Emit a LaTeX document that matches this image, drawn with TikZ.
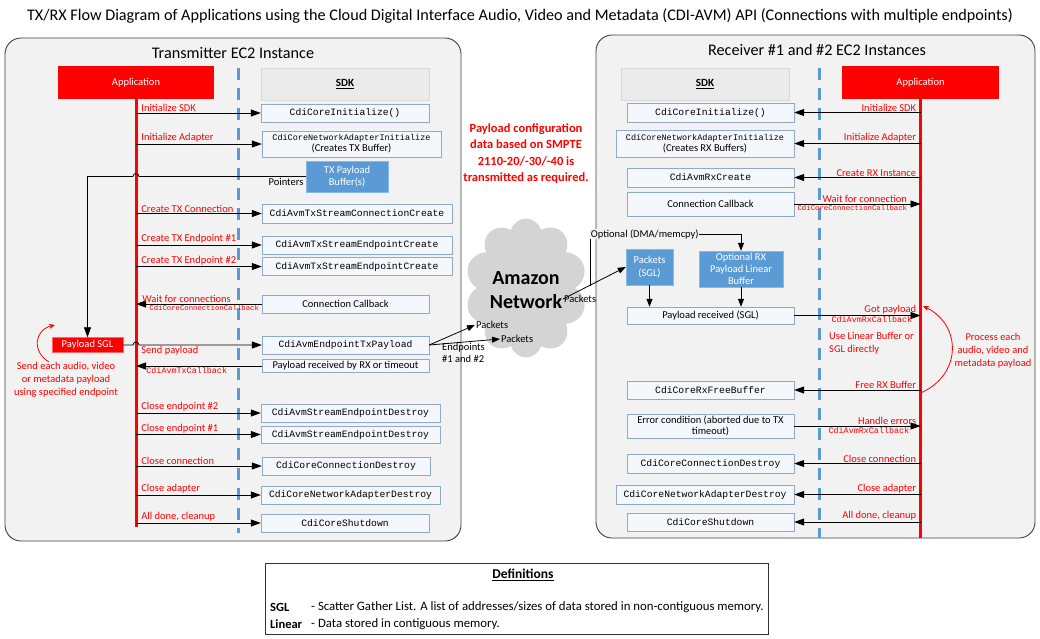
\documentclass[tikz,border=0pt]{standalone}
\usepackage{fontspec}
\setmainfont{Carlito}
\setmonofont{Liberation Mono}
\usetikzlibrary{arrows.meta,shapes.symbols,calc}

\definecolor{panelgray}{HTML}{F2F2F2}
\definecolor{appred}{HTML}{FF0000}
\definecolor{sdkblue}{HTML}{5B9BD5}
\definecolor{boxline}{HTML}{8EA9C9}
\definecolor{boxfill}{HTML}{F4F7FB}
\definecolor{cloudgray}{HTML}{D4D4D4}

\begin{document}
\begin{tikzpicture}[%
    x=1pt, y=-1pt,
    font=\fontsize{10.5}{12.5}\selectfont,
    >={Triangle[length=10pt,width=7pt]},
    panel/.style={draw=black!75, line width=0.9pt, fill=panelgray, rounded corners=16pt},
    appbox/.style={fill=appred, text=white, minimum width=156pt, minimum height=33pt, inner sep=0pt},
    sdkhead/.style={fill=black!8, draw=black!15, minimum width=168pt, minimum height=32pt,
      inner sep=0pt, font=\fontsize{11}{13}\selectfont\bfseries},
    apibox/.style={draw=boxline, fill=boxfill, minimum height=18pt, inner sep=0pt,
      align=center, font=\fontsize{9.7}{11.5}\selectfont\ttfamily},
    notebox/.style={apibox, font=\fontsize{10.5}{12.5}\selectfont},
    bufbox/.style={fill=sdkblue, draw=sdkblue!70!white, text=white, inner sep=0pt,
      align=center, font=\fontsize{10.5}{12.5}\selectfont},
    sglbox/.style={fill=appred, draw=appred!60!white, text=white, minimum width=71pt,
      minimum height=15pt, inner sep=0pt},
    redlbl/.style={text=appred, inner sep=1pt},
    cbklbl/.style={text=appred, inner sep=1pt, font=\fontsize{8.4}{10}\ttfamily},
    lifeline/.style={appred, line width=3pt},
    divider/.style={sdkblue, line width=3pt, dash pattern=on 12pt off 8pt},
    msg/.style={->, line width=0.8pt},
    pkt/.style={-{Triangle[length=8pt,width=6pt]}, line width=0.8pt}
  ]
    \useasboundingbox (0,0) rectangle (1040,638);

    \node[font=\fontsize{16.2}{19}\selectfont] (title) at (520,16) {TX/RX Flow Diagram of Applications using the Cloud Digital Interface Audio, Video and Metadata (CDI-AVM) API (Connections with multiple endpoints)};

    \draw[panel] (5,38) rectangle (461,541);
    \draw[panel] (596,35) rectangle (1035,538);
    \node[font=\fontsize{16.2}{19}\selectfont] (ttitle) at (233,53) {Transmitter EC2 Instance};
    \node[font=\fontsize{16.2}{19}\selectfont] (rtitle) at (817,50) {Receiver \#1 and \#2 EC2 Instances};

    \node[appbox] (tapp) at (136,82.5) {Application};
    \node[sdkhead] (tsdk) at (345,84) {\underline{SDK}};
    \coordinate (tend) at (136,527);
    \draw[divider] (238,68) -- (238,533);
    \draw[lifeline] (tapp.south) -- (tend);

    \node[apibox, minimum width=168pt] (tinit) at (345,113) {CdiCoreInitialize()};
    \node[apibox, minimum width=179pt, minimum height=26pt] (tadapt) at (351.5,144)
      {{\fontsize{8.5}{10}\selectfont CdiCoreNetworkAdapterInitialize}\\[-0.5pt]{\rmfamily\fontsize{10.5}{12}\selectfont (Creates TX Buffer)}};
    \node[bufbox, minimum width=82pt, minimum height=31pt] (tbuf) at (347,176.5) {TX Payload\\Buffer(s)};
    \node[apibox, minimum width=190pt, minimum height=19pt] (tconn) at (357,213.5) {CdiAvmTxStreamConnectionCreate};
    \node[apibox, minimum width=190pt] (tep1) at (357,245) {CdiAvmTxStreamEndpointCreate};
    \node[apibox, minimum width=190pt] (tep2) at (357,266.5) {CdiAvmTxStreamEndpointCreate};
    \node[notebox, minimum width=167pt] (tcb) at (345.5,304) {Connection Callback};
    \node[sglbox] (tsgl) at (87.5,345) {Payload SGL};
    \node[apibox, minimum width=167pt] (tpay) at (345.5,345) {CdiAvmEndpointTxPayload};
    \node[notebox, minimum width=167pt, minimum height=13pt] (trecv) at (345.5,366) {Payload received by RX or timeout};
    \node[apibox, minimum width=179pt] (tclose2) at (350.5,413) {CdiAvmStreamEndpointDestroy};
    \node[apibox, minimum width=179pt, minimum height=17pt] (tclose1) at (350.5,434.5) {CdiAvmStreamEndpointDestroy};
    \node[apibox, minimum width=168pt] (tcdest) at (346,466) {CdiCoreConnectionDestroy};
    \node[apibox, minimum width=179pt] (tadest) at (350.5,495) {CdiCoreNetworkAdapterDestroy};
    \node[apibox, minimum width=168pt] (tshut) at (345,523) {CdiCoreShutdown};

    \draw[msg] (tinit.west -| tapp.south) -- node[redlbl, at start, anchor=south west, xshift=4pt] {Initialize SDK} (tinit.west);
    \draw[msg] (tadapt.west -| tapp.south) -- node[redlbl, at start, anchor=south west, xshift=4pt] {Initialize Adapter} (tadapt.west);
    \draw[msg] (tbuf.west) -- node[at start, anchor=north east, inner sep=1pt, xshift=-1pt] {Pointers}
      ($(tbuf.west -| tapp.south)+(3,0)$) arc[start angle=0, end angle=180, radius=3pt]
      -- (tbuf.west -| tsgl.north) -- (tsgl.north);
    \draw[msg] (tconn.west -| tapp.south) -- node[redlbl, at start, anchor=south west, xshift=4pt] {Create TX Connection} (tconn.west);
    \draw[msg] (tep1.west -| tapp.south) -- node[redlbl, at start, anchor=south west, xshift=4pt] {Create TX Endpoint \#1} (tep1.west);
    \draw[msg] (tep2.west -| tapp.south) -- node[redlbl, at start, anchor=south west, xshift=4pt] {Create TX Endpoint \#2} (tep2.west);
    \draw[msg] (tcb.west) -- node[redlbl, at end, anchor=south west, xshift=5pt] {Wait for connections}
      node[cbklbl, at end, anchor=north west, xshift=12pt, font=\fontsize{7.3}{9}\ttfamily] {CdiCoreConnectionCallback} (tcb.west -| tapp.south);
    \draw[msg] (tsgl.east) -- ($(tsgl.east -| tapp.south)+(-3,0)$) arc[start angle=180, end angle=0, radius=3pt]
      -- node[redlbl, at start, anchor=north west, xshift=1pt] {Send payload} (tpay.west);
    \draw[msg] (trecv.west) -- node[cbklbl, at end, anchor=north west, xshift=9pt] {CdiAvmTxCallback} (trecv.west -| tapp.south);
    \draw[msg] (tclose2.west -| tapp.south) -- node[redlbl, at start, anchor=south west, xshift=4pt] {Close endpoint \#2} (tclose2.west);
    \draw[msg] (tclose1.west -| tapp.south) -- node[redlbl, at start, anchor=south west, xshift=4pt] {Close endpoint \#1} (tclose1.west);
    \draw[msg] (tcdest.west -| tapp.south) -- node[redlbl, at start, anchor=south west, xshift=4pt] {Close connection} (tcdest.west);
    \draw[msg] (tadest.west -| tapp.south) -- node[redlbl, at start, anchor=south west, xshift=4pt] {Close adapter} (tadest.west);
    \draw[msg] (tshut.west -| tapp.south) -- node[redlbl, at start, anchor=south west, xshift=4pt] {All done, cleanup} (tshut.west);

    \draw[appred, line width=0.8pt, -{Stealth[length=6pt,width=5pt]}] (49,362) .. controls (32,352) and (34,330) .. (55,325);
    \node[redlbl, align=center, font=\fontsize{10.5}{13}\selectfont] (tnote) at (66,380)
      {Send each audio, video\\or metadata payload\\using specified endpoint};

    \node[text=appred, align=center, font=\fontsize{12.5}{16.3}\selectfont\bfseries] (cfg) at (526,153.5)
      {Payload configuration\\data based on SMPTE\\2110-20/-30/-40 is\\transmitted as required.};
    \node[cloud, cloud puffs=10, aspect=0.9, fill=cloudgray, minimum width=122pt, minimum height=139pt, inner sep=0pt] (net) at (526,288) {};
    \node[align=center, font=\fontsize{20}{24}\selectfont\bfseries] (netlbl) at (526,290) {Amazon\\Network};
    \node[inner sep=1pt, anchor=west] (pk1) at (475,325) {Packets};
    \node[inner sep=1pt, anchor=west] (pk2) at (500,339) {Packets};
    \node[anchor=north west, inner sep=0pt, align=left, font=\fontsize{10.5}{12}\selectfont] (epts) at (442,343) {Endpoints\\\#1 and \#2};
    \draw[pkt] (tpay.east) -- (pk1.west);
    \draw[pkt] (tpay.east) -- (pk2.west);

    \node[sdkhead] (rsdk) at (705,84) {\underline{SDK}};
    \node[appbox, minimum width=157pt] (rapp) at (920.5,82.5) {Application};
    \coordinate (rend) at (920.5,538);
    \draw[divider] (819,68) -- (819,538);
    \draw[lifeline] (rapp.south) -- (rend);

    \node[apibox, minimum width=167pt, minimum height=19pt] (rinit) at (710.5,112.5) {CdiCoreInitialize()};
    \node[apibox, minimum width=178pt, minimum height=27pt] (radapt) at (705,143.5)
      {{\fontsize{8.5}{10}\selectfont CdiCoreNetworkAdapterInitialize}\\[-0.5pt]{\rmfamily\fontsize{10.5}{12}\selectfont (Creates RX Buffers)}};
    \node[apibox, minimum width=167pt, minimum height=19pt] (rcreate) at (710.5,177.5) {CdiAvmRxCreate};
    \node[notebox, minimum width=167pt, minimum height=24pt] (rcb) at (710.5,204) {Connection Callback};
    \node[bufbox, minimum width=47pt, minimum height=36pt, font=\fontsize{10.5}{13}\selectfont] (rpk) at (649.5,267) {Packets\\(SGL)};
    \node[bufbox, minimum width=84pt, minimum height=36pt, font=\fontsize{10.5}{12}\selectfont] (rlin) at (741,269) {Optional RX\\Payload Linear\\Buffer};
    \node[notebox, minimum width=167pt, minimum height=17pt] (rrecv) at (710.5,315.5) {Payload received (SGL)};
    \node[apibox, minimum width=167pt] (rfree) at (710.5,390) {CdiCoreRxFreeBuffer};
    \node[notebox, minimum width=167pt, minimum height=24pt, font=\fontsize{10.5}{11.5}\selectfont] (rerr) at (710.5,426) {Error condition (aborted due to TX\\timeout)};
    \node[apibox, minimum width=167pt, minimum height=19pt] (rcdest) at (710.5,463.5) {CdiCoreConnectionDestroy};
    \node[apibox, minimum width=178pt, minimum height=19pt] (radest) at (705,494.5) {CdiCoreNetworkAdapterDestroy};
    \node[apibox, minimum width=167pt] (rshut) at (710.5,522) {CdiCoreShutdown};

    \node[inner sep=1pt, anchor=west] (pk3) at (563,299) {Packets};
    \coordinate (opt) at (590,286);
    \draw[pkt] (pk3.west) -- (rpk.west);
    \draw[pkt] (opt) -- (590,234) -- node[at start, anchor=west, fill=panelgray, inner sep=0.5pt] {Optional (DMA/memcpy)} (rlin.north |- 0,234) -- (rlin.north);

    \draw[msg] (rinit.east -| rapp.south) -- node[redlbl, at start, anchor=south east, xshift=-3pt] {Initialize SDK} (rinit.east);
    \draw[msg] (radapt.east -| rapp.south) -- node[redlbl, at start, anchor=south east, xshift=-3pt] {Initialize Adapter} (radapt.east);
    \draw[msg] (rcreate.east -| rapp.south) -- node[redlbl, at start, anchor=south east, xshift=-3pt] {Create RX Instance} (rcreate.east);
    \draw[msg] (rcb.east) -- node[redlbl, at start, anchor=south west, xshift=27pt] {Wait for connection}
      node[cbklbl, at start, anchor=north west, xshift=2pt, font=\fontsize{7.3}{9}\ttfamily] {CdiCoreConnectionCallback} (rcb.east -| rapp.south);
    \draw[pkt] (rpk.south) -- (rpk.south |- rrecv.north);
    \draw[pkt] (rlin.south) -- (rlin.south |- rrecv.north);
    \draw[msg] (rrecv.east) -- node[redlbl, at end, anchor=south east, xshift=-3pt] {Got payload}
      node[cbklbl, at start, anchor=north west, xshift=36pt] {CdiAvmRxCallback} (rrecv.east -| rapp.south);
    \node[redlbl, anchor=north west, align=left, font=\fontsize{10.5}{13}\selectfont] (rhint) at (828,331) {Use Linear Buffer or\\SGL directly};
    \draw[msg] (rfree.east -| rapp.south) -- node[redlbl, at start, anchor=south east, xshift=-3pt] {Free RX Buffer} (rfree.east);
    \draw[msg] (rerr.east) -- node[redlbl, at end, anchor=south east, xshift=-3pt] {Handle errors}
      node[cbklbl, at start, anchor=north west, xshift=33pt] {CdiAvmRxCallback} (rerr.east -| rapp.south);
    \draw[msg] (rcdest.east -| rapp.south) -- node[redlbl, at start, anchor=south east, xshift=-3pt] {Close connection} (rcdest.east);
    \draw[msg] (radest.east -| rapp.south) -- node[redlbl, at start, anchor=south east, xshift=-3pt] {Close adapter} (radest.east);
    \draw[msg] (rshut.east -| rapp.south) -- node[redlbl, at start, anchor=south east, xshift=-3pt] {All done, cleanup} (rshut.east);

    \draw[appred, line width=0.8pt, -{Stealth[length=6pt,width=5pt]}] (920.5,393) .. controls (962,375) and (962,325) .. (923,306);
    \node[redlbl, align=center, font=\fontsize{10.5}{13}\selectfont] (rnote) at (993,351)
      {Process each\\audio, video and\\metadata payload};

    \node[draw=black!80, fill=white, minimum width=503pt, minimum height=71pt, inner sep=0pt] (defs) at (516.5,598.5) {};
    \node[font=\fontsize{13.5}{16}\selectfont\bfseries] (defhead) at (523,575) {\underline{Definitions}};
    \node[anchor=west, inner sep=0pt, font=\fontsize{12.5}{15}\selectfont\bfseries] (dsgl) at (270,607) {SGL};
    \node[anchor=west, inner sep=0pt, font=\fontsize{12.8}{15}\selectfont] (dsgltxt) at (311,607) {- Scatter Gather List. A list of addresses/sizes of data stored in non-contiguous memory.};
    \node[anchor=west, inner sep=0pt, font=\fontsize{12.5}{15}\selectfont\bfseries] (dlin) at (270,624) {Linear};
    \node[anchor=west, inner sep=0pt, font=\fontsize{12.8}{15}\selectfont] (dlintxt) at (311,624) {- Data stored in contiguous memory.};
\end{tikzpicture}
\end{document}
